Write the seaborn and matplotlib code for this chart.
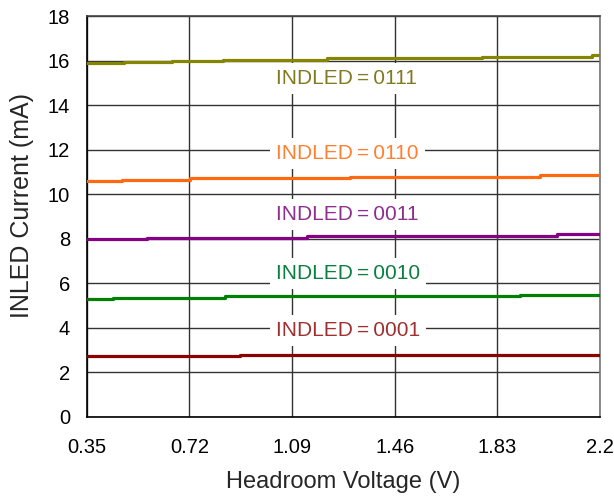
import numpy as np
import pandas as pd
import matplotlib
matplotlib.use("Agg")
import matplotlib.pyplot as plt
import seaborn as sns

# ---- data ----
series_names = ["0111", "0110", "0011", "0010", "0001"]
v0111_x = [0.35, 0.484, 0.657, 0.841, 1.216, 1.775, 2.171, 2.2]
v0111_y = [15.89, 15.93, 15.99, 16.05, 16.11, 16.18, 16.25, 16.25]
v0110_x = [0.35, 0.477, 0.722, 1.299, 1.984, 2.2]
v0110_y = [10.62, 10.66, 10.75, 10.80, 10.86, 10.86]
v0011_x = [0.35, 0.567, 1.144, 2.045, 2.2]
v0011_y = [7.98, 8.03, 8.12, 8.21, 8.21]
v0010_x = [0.35, 0.445, 0.849, 1.912, 2.2]
v0010_y = [5.30, 5.35, 5.42, 5.48, 5.48]
v0001_x = [0.35, 0.903, 2.2]
v0001_y = [2.74, 2.80, 2.80]

x_ticks = [0.35, 0.72, 1.09, 1.46, 1.83, 2.2]
x_tick_labels = ["0.35", "0.72", "1.09", "1.46", "1.83", "2.2"]
y_ticks = [0, 2, 4, 6, 8, 10, 12, 14, 16, 18]

label_x = 1.032
label_y = [14.95, 11.58, 8.85, 6.19, 3.64]

line_colors = ["#858500", "#FF6A10", "#850085", "#008000", "#8B0000"]
text_colors = ["#807A20", "#FF8030", "#8E2E8E", "#0A7F40", "#A03030"]

xs = [v0111_x, v0110_x, v0011_x, v0010_x, v0001_x]
ys = [v0111_y, v0110_y, v0011_y, v0010_y, v0001_y]
df = pd.concat([pd.DataFrame({"V": x, "I": y, "code": n})
                for n, x, y in zip(series_names, xs, ys)], ignore_index=True)

sns.set_style("white")
plt.rcParams["font.family"] = ["Liberation Sans", "DejaVu Sans"]

fig = plt.figure(figsize=(6.14, 4.98), dpi=100)
ax = fig.add_axes([0.1412, 0.1627, 0.8360, 0.8046])

sns.lineplot(data=df, x="V", y="I", hue="code", hue_order=series_names,
             palette=line_colors, drawstyle="steps-post", linewidth=2.3,
             legend=False, ax=ax, estimator=None, zorder=3)

ax.set_xlim(0.35, 2.2)
ax.set_ylim(0, 18)
ax.set_xticks(x_ticks)
ax.set_xticklabels(x_tick_labels)
ax.set_yticks(y_ticks)
ax.grid(True, color="#333333", linewidth=1.0, zorder=0)
ax.set_axisbelow(True)
ax.tick_params(axis="both", length=0, labelsize=14.5, colors="black")
ax.tick_params(axis="y", pad=12)
ax.tick_params(axis="x", pad=15)

for side, c in [("left", "black"), ("bottom", "black"), ("top", "#444444"), ("right", "#777777")]:
    ax.spines[side].set_visible(True)
    ax.spines[side].set_color(c)
    ax.spines[side].set_linewidth(1.2)

ax.set_xlabel("Headroom Voltage (V)", fontsize=17, labelpad=10)
ax.set_ylabel("INLED Current (mA)", fontsize=18)
ax.yaxis.label.set_verticalalignment("center")
ax.yaxis.set_label_coords(-0.127, 0.529)

for n, yv, tc in zip(series_names, label_y, text_colors):
    ax.text(label_x, yv, "INDLED\u2009=\u2009" + n, color=tc, fontsize=15,
            ha="left", va="baseline", zorder=2,
            bbox=dict(boxstyle="square,pad=0.3", facecolor="white", edgecolor="none"))

fig.savefig("out.png", dpi=100)
